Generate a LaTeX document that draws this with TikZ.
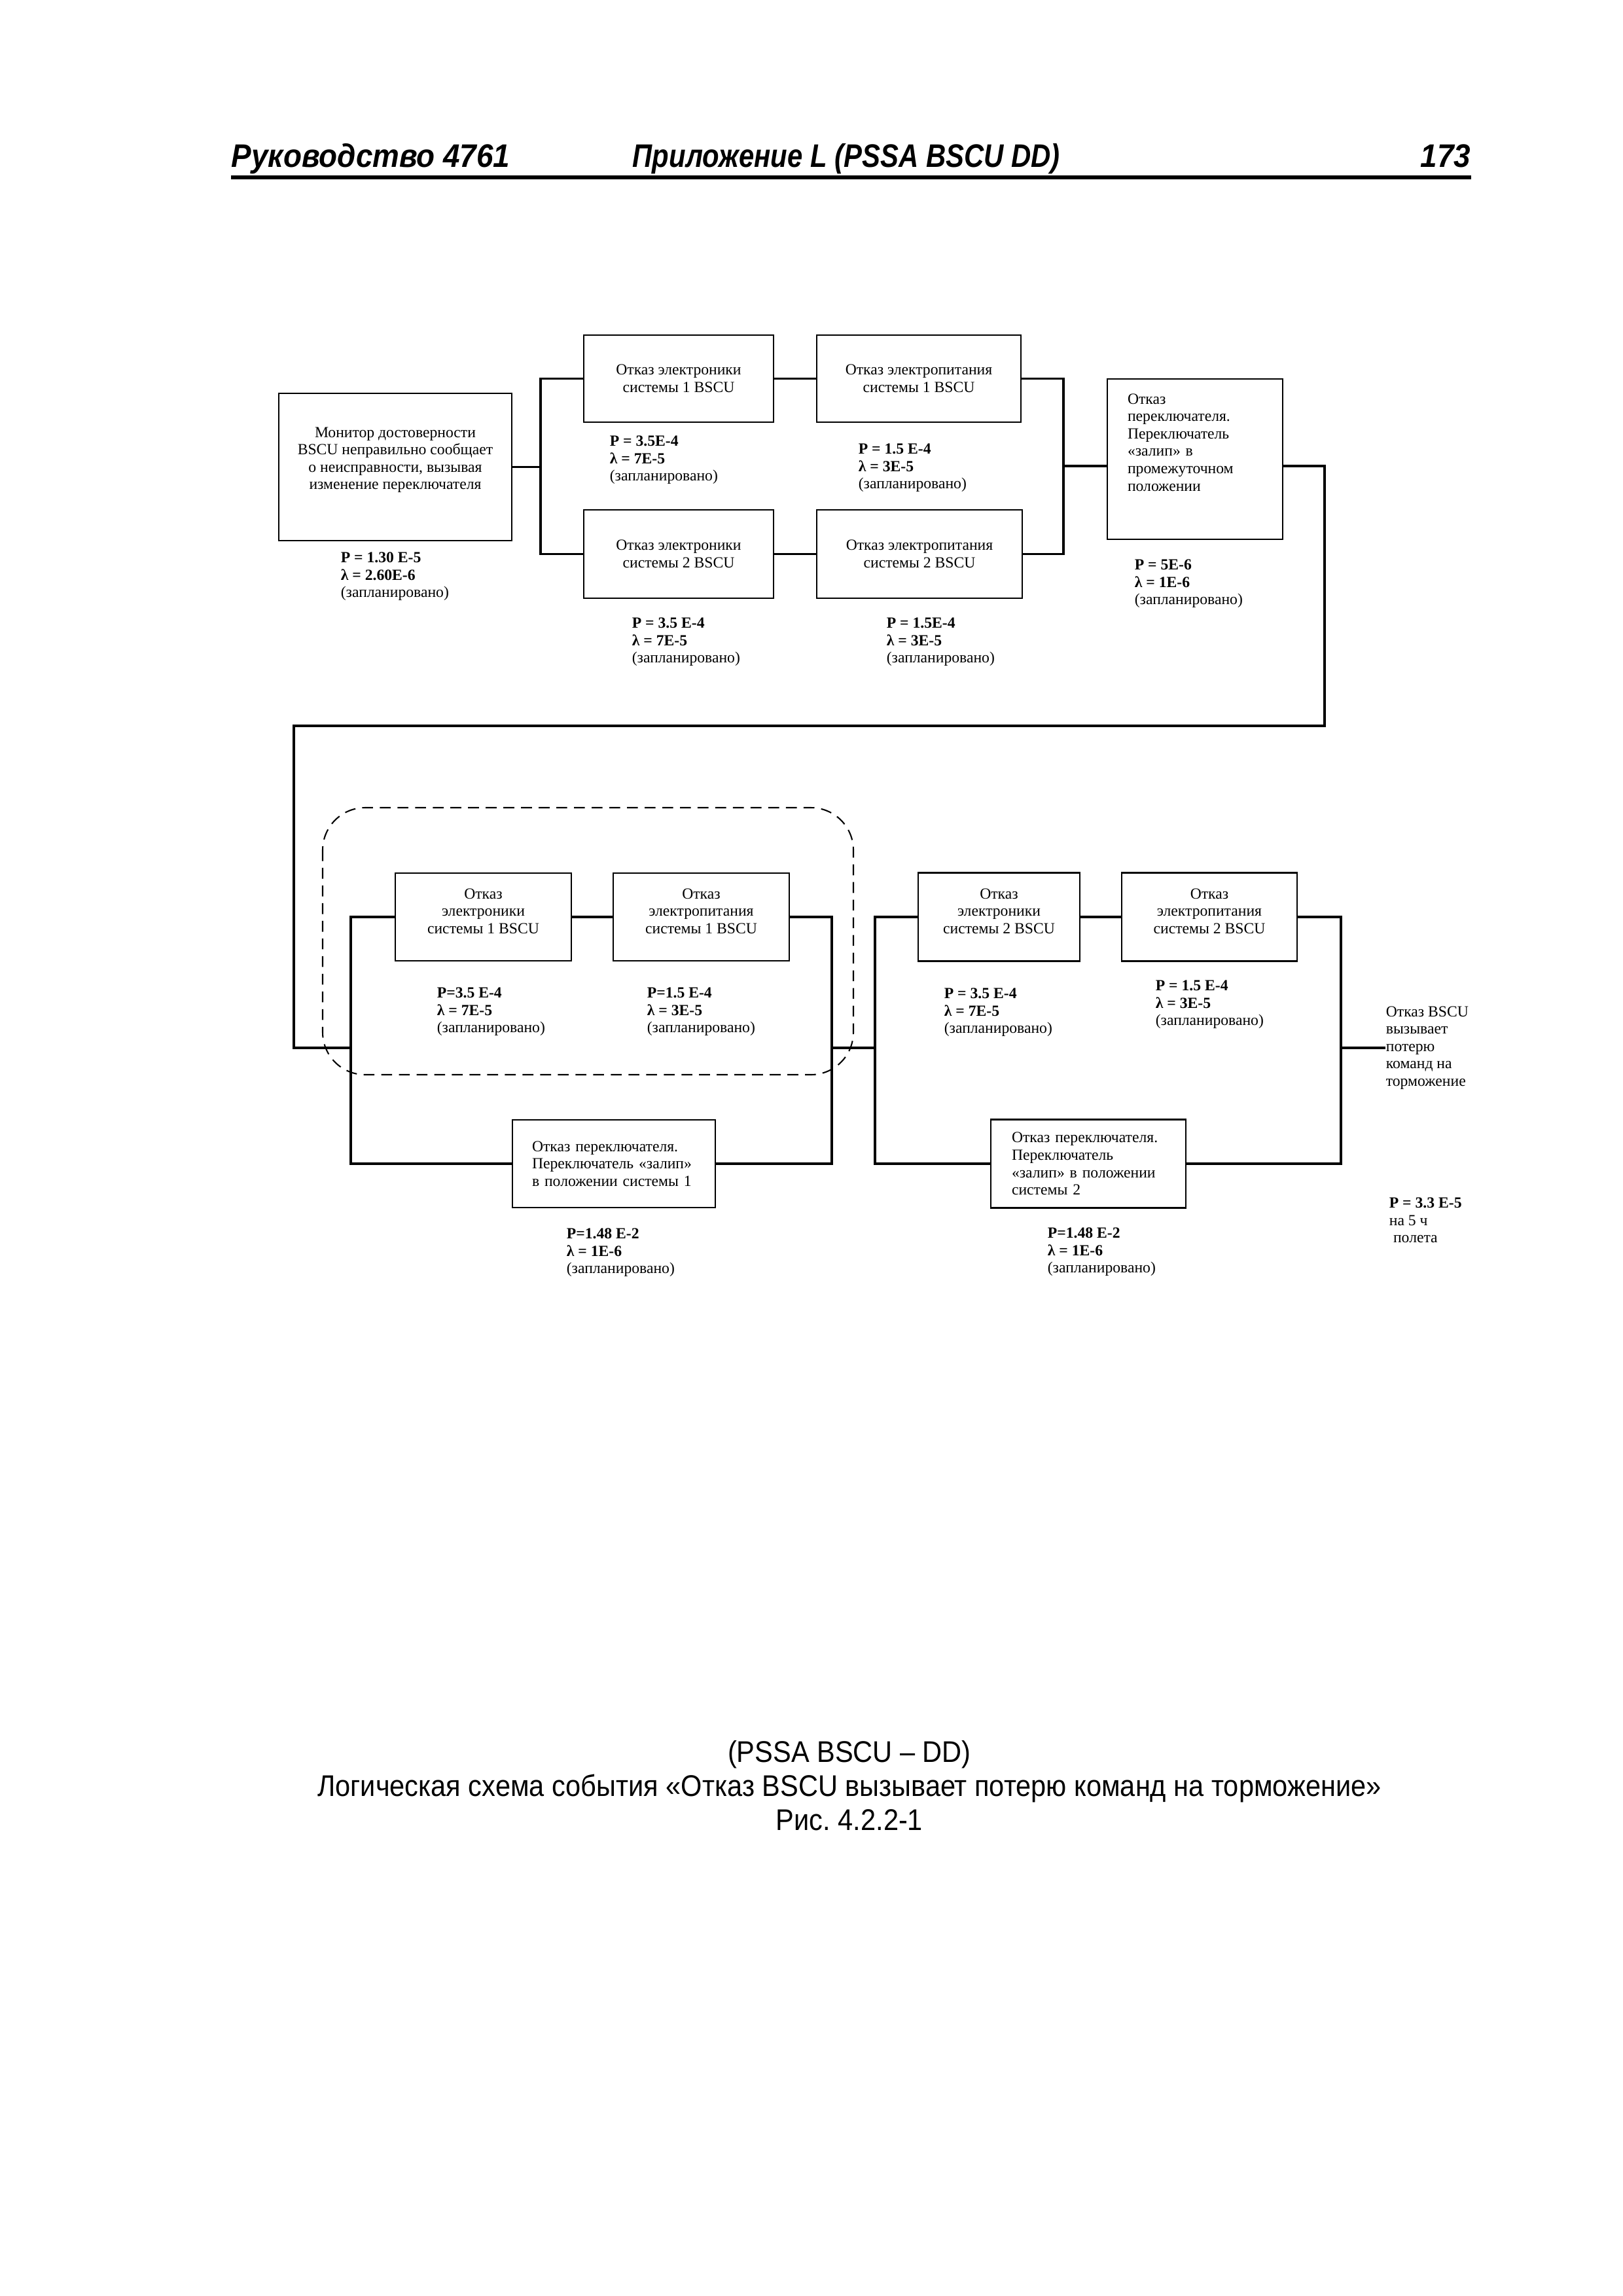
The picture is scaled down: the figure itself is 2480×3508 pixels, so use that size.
\documentclass[tikz,border=0pt]{standalone}
\usepackage{fontspec}
\setmainfont{Liberation Serif}
\newfontfamily\hdfont[FakeStretch=0.92]{Liberation Sans}
\newfontfamily\hdnarrow[FakeStretch=0.84]{Liberation Sans}
\newfontfamily\capfont[FakeStretch=0.91]{Liberation Sans}
\newcommand\pxu{0.084667mm}
\frenchspacing

\begin{document}
\begin{tikzpicture}[x=\pxu, y=-\pxu, font=\fontsize{5.7}{6.4}\selectfont,
    box/.style={draw, line width=0.7pt, inner sep=0pt, align=center},
    wire/.style={line width=0.8pt},
    prob/.style={anchor=north west, inner sep=0pt, align=left},
    grp/.style={line width=0.5pt, dash pattern=on 4pt off 2.5pt, rounded corners=5.5mm},
    hdr/.style={font=\hdfont\fontsize{12}{14}\selectfont\bfseries\itshape, inner sep=0pt}]
    \useasboundingbox (0,0) rectangle (2480,3508);
    \node[hdr, anchor=base west] (hd1) at (353,255) {Руководство 4761};
    \node[hdr, font=\hdnarrow\fontsize{12}{14}\selectfont\bfseries\itshape, anchor=base west] (hd2) at (966,255) {Приложение L (PSSA BSCU DD)};
    \node[hdr, anchor=base east] (hd3) at (2248,255) {173};
    \draw[line width=1.3pt] (353,271) -- (2248,271);

    \node[box, minimum width=356*\pxu, minimum height=225*\pxu] (mon) at (604,713.5) {Монитор достоверности\\BSCU неправильно сообщает\\о неисправности, вызывая\\изменение переключателя\\\mbox{}};
    \node[box, minimum width=290*\pxu, minimum height=133*\pxu] (e1) at (1037,578.5) {Отказ электроники\\системы 1 BSCU};
    \node[box, minimum width=290*\pxu, minimum height=135*\pxu] (e2) at (1037,846.5) {Отказ электроники\\системы 2 BSCU};
    \node[box, minimum width=312*\pxu, minimum height=133*\pxu] (pw1) at (1404,578.5) {Отказ электропитания\\системы 1 BSCU};
    \node[box, minimum width=314*\pxu, minimum height=135*\pxu] (pw2) at (1405,846.5) {Отказ электропитания\\системы 2 BSCU};
    \node[box, align=left, text width=206*\pxu, minimum width=268*\pxu, minimum height=245*\pxu] (s0) at (1826,701.5) {Отказ\\переключателя.\\Переключатель\\«залип» в\\промежуточном\\положении\\[6pt]\mbox{}};

    \node[box, minimum width=269*\pxu, minimum height=134*\pxu] (le1) at (738.5,1401) {Отказ\\электроники\\системы 1 BSCU\\[-2pt]\mbox{}};
    \node[box, minimum width=269*\pxu, minimum height=134*\pxu] (lp1) at (1071.5,1401) {Отказ\\электропитания\\системы 1 BSCU\\[-2pt]\mbox{}};
    \node[box, align=left, text width=250*\pxu, minimum width=310*\pxu, minimum height=134*\pxu] (s1) at (938,1778) {Отказ переключателя.\\Переключатель «залип»\\в положении системы 1};
    \node[box, minimum width=247*\pxu, minimum height=135*\pxu] (re2) at (1526.5,1401) {Отказ\\электроники\\системы 2 BSCU\\[-2pt]\mbox{}};
    \node[box, minimum width=268*\pxu, minimum height=135*\pxu] (rp2) at (1848,1401) {Отказ\\электропитания\\системы 2 BSCU\\[-2pt]\mbox{}};
    \node[box, align=left, text width=234*\pxu, minimum width=298*\pxu, minimum height=135*\pxu] (s2) at (1663,1778) {Отказ переключателя.\\Переключатель\\«залип» в положении\\системы 2};
    \draw[grp] (493,1234) rectangle (1304,1642);

    \foreach \nm/\x/\y/\p/\l in {mon/520/843/P = 1.30 E-5/λ = 2.60E-6, e1/931/665/P = 3.5E-4/λ = 7E-5,
        e2/965/943/P = 3.5 E-4/λ = 7E-5, pw1/1311/677/P = 1.5 E-4/λ = 3E-5, pw2/1354/943/P = 1.5E-4/λ = 3E-5,
        s0/1733/854/P = 5E-6/λ = 1E-6, le1/667/1508/P=3.5 E-4/λ = 7E-5, lp1/988/1508/P=1.5 E-4/λ = 3E-5,
        s1/865/1876/P=1.48 E-2/λ = 1E-6, re2/1442/1509/P = 3.5 E-4/λ = 7E-5, rp2/1765/1497/P = 1.5 E-4/λ = 3E-5,
        s2/1600/1875/P=1.48 E-2/λ = 1E-6} {
        \node[prob] (p\nm) at (\x,\y) {\textbf{\p}\\\textbf{\l}\\(запланировано)};
    }
    \node[prob, anchor=west] (outt) at (2117,1601) {Отказ BSCU\\вызывает\\потерю\\команд на\\торможение};
    \node[prob] (ptot) at (2122,1829) {\textbf{P = 3.3 E-5}\\на 5 ч\\\hspace*{1.5pt}полета};

    \coordinate (ja) at (826,713.5);
    \draw[wire] (mon.east) -- (ja);
    \draw[wire] (e1.west) -| (ja) |- (e2.west);
    \draw[wire] (e1) -- (pw1);
    \draw[wire] (e2) -- (pw2);
    \coordinate (jb) at (1625,712);
    \draw[wire] (pw1.east) -| (jb) |- (pw2.east);
    \draw[wire] (jb) -- (jb -| s0.west);
    \coordinate (jc) at (2024,712);
    \coordinate (jd) at (449,1109);
    \coordinate (je) at (536,1601);
    \draw[wire] (jc -| s0.east) -- (jc) |- (jd) |- (je);
    \draw[wire] (le1.west) -| (je) |- (s1.west);
    \draw[wire] (le1) -- (lp1);
    \coordinate (jf) at (1271,1601);
    \draw[wire] (lp1.east) -| (jf) |- (s1.east);
    \coordinate (jg) at (1337,1601);
    \draw[wire] (jf) -- (jg);
    \draw[wire] (re2.west) -| (jg) |- (s2.west);
    \draw[wire] (re2) -- (rp2);
    \coordinate (jh) at (2049,1601);
    \draw[wire] (rp2.east) -| (jh) |- (s2.east);
    \draw[wire] (jh) -- (outt.west);

    \node[font=\capfont\fontsize{11}{12.5}\selectfont, align=center, inner sep=0pt] (cap) at (1298,2728) {(PSSA BSCU – DD)\\Логическая схема события «Отказ BSCU вызывает потерю команд на торможение»\\Рис. 4.2.2-1};
\end{tikzpicture}
\end{document}
